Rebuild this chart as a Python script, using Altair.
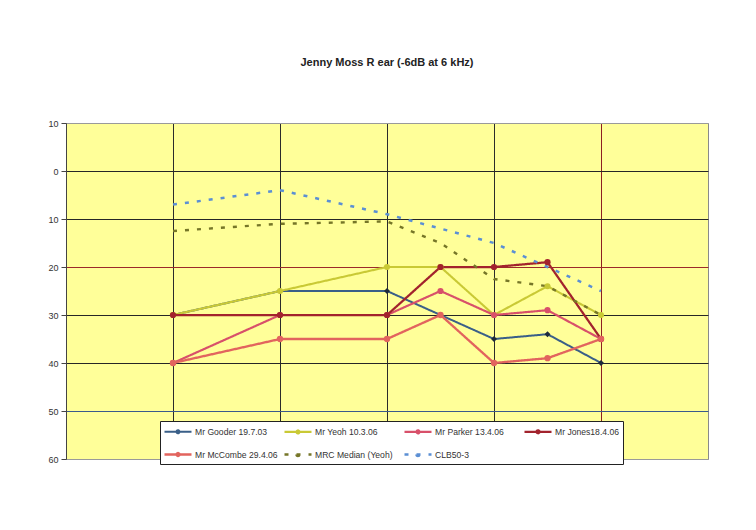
import altair as alt
import pandas as pd

# ---- data ----
x_pos = [1, 2, 3, 3.5, 4, 4.5, 5]          # position along the (unlabelled) frequency axis
series_names = ["Mr Gooder 19.7.03", "Mr Yeoh 10.3.06", "Mr Parker 13.4.06",
                "Mr Jones18.4.06", "Mr McCombe 29.4.06", "MRC Median (Yeoh)", "CLB50-3"]
gooder = [30, 25, 25, 30, 35, 34, 40]
yeoh = [30, 25, 20, 20, 30, 24, 30]
parker = [40, 30, 30, 25, 30, 29, 35]
jones = [30, 30, 30, 20, 20, 19, 35]
mccombe = [40, 35, 35, 30, 40, 39, 35]
mrc_median = [12.5, 11, 10.5, 15, 22.5, 24, 30]
clb50_3 = [7, 4, 9, 12, 15, 20, 25]
y_ticks = [-10, 0, 10, 20, 30, 40, 50, 60]
x_grid = [1, 2, 3, 4, 5]

# ---- styling ----
line_colors = ["#3a5f88", "#c9c935", "#d8506a", "#a2232d", "#e2645e", "#767628", "#5b8fd4"]
line_widths = [2, 2.5, 2.5, 3, 1.5, 2, 2]
line_dashes = [[1, 0], [1, 0], [1, 0], [1, 0], [1, 0], [4, 8], [4, 8]]
solid_names = series_names[:5]
marker_colors = ["#1d2a3c", "#c9c935", "#d8506a", "#a2232d", "#e2645e"]
marker_shapes = ["diamond", "circle", "circle", "circle", "circle"]
marker_sizes = [36, 40, 40, 55, 28]

all_vals = [gooder, yeoh, parker, jones, mccombe, mrc_median, clb50_3]
rows = []
for k, (name, vals) in enumerate(zip(series_names, all_vals)):
    for i, (x, v) in enumerate(zip(x_pos, vals)):
        rows.append({"series": name, "x": x, "db": v, "k": k, "i": i})
df = pd.DataFrame(rows)

FONT = "Liberation Sans"

x_enc = alt.X("x:Q", scale=alt.Scale(domain=[0, 6], nice=False, zero=False),
              axis=alt.Axis(values=x_grid, labels=False, ticks=False, domain=False, title=None,
                            grid=True, gridWidth=1,
                            gridColor={"condition": {"test": "datum.value == 5", "value": "#8e1f22"},
                                       "value": "#2b2b2b"}))
y_enc = alt.Y("db:Q", scale=alt.Scale(domain=[-10, 60], reverse=True, nice=False, zero=False),
              axis=alt.Axis(values=y_ticks, title=None, labelExpr="'' + abs(datum.value)",
                            labelFont=FONT, labelFontSize=9, labelColor="#333", labelPadding=3,
                            tickSize=5, tickColor="#444", domainColor="#444",
                            grid=True, gridWidth=1,
                            gridColor={"condition": [
                                {"test": "datum.value == 20", "value": "#9c2a2a"},
                                {"test": "datum.value == 50", "value": "#3a5a8c"},
                                {"test": "datum.value == -10 || datum.value == 60", "value": "#9a9a9a"}],
                                "value": "#262626"}))

leg_symbol = "M-1,0H3.5M1,0a0.25,0.25 0 1,0 0.5,0a0.25,0.25 0 1,0 -0.5,0"
leg = alt.Legend(title=None, orient="none", legendX=94, legendY=298, direction="horizontal",
                 columns=4, gridAlign="all", columnPadding=1, rowPadding=9,
                 fillColor="white", strokeColor="#222", padding=3,
                 symbolType=leg_symbol, symbolSize=144, labelOffset=17,
                 labelFont=FONT, labelFontSize=8.6, labelColor="#333")

lines = alt.Chart(df).mark_line().encode(
    x=x_enc, y=y_enc,
    color=alt.Color("series:N", scale=alt.Scale(domain=series_names, range=line_colors), legend=leg),
    strokeDash=alt.StrokeDash("series:N", scale=alt.Scale(domain=series_names, range=line_dashes),
                              legend=leg),
    strokeWidth=alt.StrokeWidth("series:N", scale=alt.Scale(domain=series_names, range=line_widths),
                                legend=leg),
    order=alt.Order("i:Q"),
)

points = alt.Chart(df).transform_filter(
    alt.FieldOneOfPredicate(field="series", oneOf=solid_names)
).mark_point(filled=True, opacity=1, strokeWidth=0).encode(
    x=x_enc, y=y_enc,
    fill=alt.Fill("series:N", scale=alt.Scale(domain=solid_names, range=marker_colors), legend=None),
    shape=alt.Shape("series:N", scale=alt.Scale(domain=solid_names, range=marker_shapes), legend=None),
    size=alt.Size("series:N", scale=alt.Scale(domain=solid_names, range=marker_sizes), legend=None),
)

chart = alt.layer(lines, points).properties(
    width=642, height=336,
    title=alt.TitleParams("Jenny Moss R ear (-6dB at 6 kHz)", font=FONT, fontSize=11,
                          fontWeight="bold", color="#222", anchor="middle", offset=51),
    autosize=alt.AutoSizeParams(type="none"),
    padding={"left": 66, "top": 123, "right": 48, "bottom": 71},
    background="white",
).configure_view(fill="#ffff99", stroke="#8a8a8a", strokeWidth=1)

chart.save("out.html", embed_options={"renderer": "svg", "actions": False})
